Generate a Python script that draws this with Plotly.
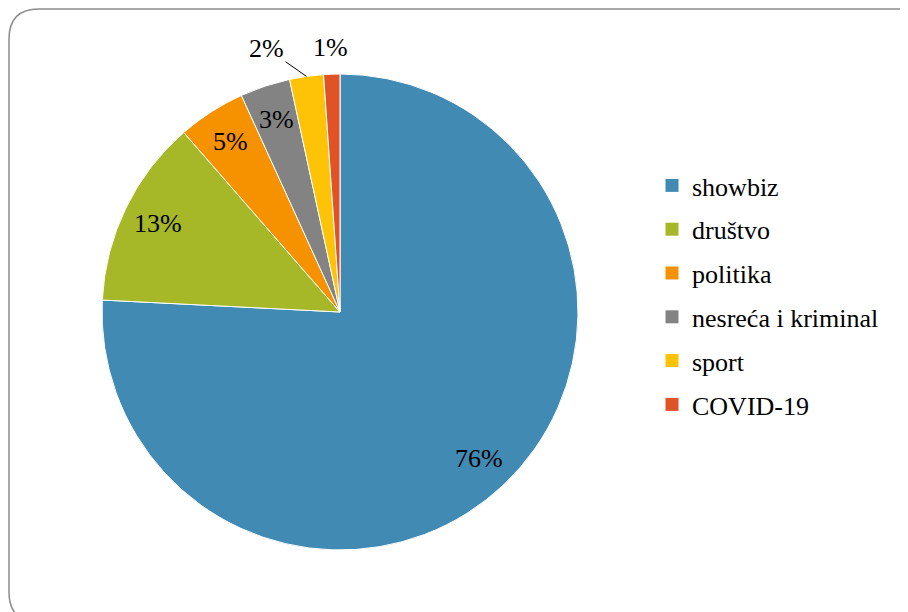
import math
import plotly.graph_objects as go

categories = ["showbiz", "društvo", "politika", "nesreća i kriminal", "sport", "COVID-19"]
shares = [75.8, 12.8, 4.6, 3.4, 2.3, 1.1]
colors = ["#418AB3", "#A6B727", "#F69200", "#838383", "#FEC306", "#DF5327"]
label_outside = [False, False, False, False, True, True]

W, H = 908, 612
OFF = 8  # page body margin
FONT = "Liberation Serif"

# pie placement (pixels in the page)
PIE_L, PIE_R, PIE_T, PIE_B = 102, 578, 74, 550


def px(x):
    return (x - OFF) / W


def py(y):
    return 1 - (y - OFF) / H


fig = go.Figure()
fig.add_trace(go.Pie(
    labels=categories,
    values=shares,
    sort=False,
    direction="clockwise",
    rotation=0,
    marker=dict(colors=colors, line=dict(color="white", width=1)),
    textinfo="none",
    showlegend=False,
    domain=dict(x=[px(PIE_L), px(PIE_R)], y=[py(PIE_B), py(PIE_T)]),
    hoverinfo="label+percent",
))

# percentage labels placed along each slice's bisector (derived from the data)
cx, cy = (PIE_L + PIE_R) / 2, (PIE_T + PIE_B) / 2
R = (PIE_R - PIE_L) / 2
total = sum(shares)
label_font = dict(family=FONT, size=26, color="black")
annotations = []
start = 0.0
for i, (v, out) in enumerate(zip(shares, label_outside)):
    ang = (start + v / 2) / total * 2 * math.pi
    start += v
    pct = f"{round(v / total * 100)}%"
    if not out:
        d = 0.85 * R
        annotations.append(dict(
            x=px(cx + d * math.sin(ang)), y=py(cy - d * math.cos(ang)),
            xref="paper", yref="paper", text=pct, showarrow=False,
            xanchor="center", yanchor="middle", font=label_font))
    elif i == len(shares) - 1:
        d = 1.11 * R
        annotations.append(dict(
            x=px(cx + d * math.sin(ang)), y=py(cy - d * math.cos(ang)),
            xref="paper", yref="paper", text=pct, showarrow=False,
            xanchor="center", yanchor="middle", font=label_font))
    else:
        annotations.append(dict(
            x=px(cx + R * math.sin(ang)), y=py(cy - R * math.cos(ang)),
            xref="paper", yref="paper", text=pct, showarrow=True,
            arrowhead=0, arrowwidth=1, arrowcolor="black",
            ax=-40, ay=-28, standoff=0, font=label_font))

# legend entries (one per category so the spacing can match)
for i, (cat, col) in enumerate(zip(categories, colors)):
    fig.add_trace(go.Scatter(
        x=[None], y=[None], mode="markers", name=cat,
        marker=dict(symbol="square", size=13, color=col),
        legendgroup=f"g{i}", showlegend=True,
    ))

# rounded border frame
x0, y0, x1, y1, r = 9, 9, 927, 622, 30
path = (
    f"M {px(x0)},{py(y0 + r)} "
    f"Q {px(x0)},{py(y0)} {px(x0 + r)},{py(y0)} "
    f"L {px(x1 - r)},{py(y0)} "
    f"Q {px(x1)},{py(y0)} {px(x1)},{py(y0 + r)} "
    f"L {px(x1)},{py(y1 - r)} "
    f"Q {px(x1)},{py(y1)} {px(x1 - r)},{py(y1)} "
    f"L {px(x0 + r)},{py(y1)} "
    f"Q {px(x0)},{py(y1)} {px(x0)},{py(y1 - r)} Z"
)

fig.update_layout(
    width=W, height=H,
    margin=dict(l=0, r=0, t=0, b=0),
    paper_bgcolor="white",
    plot_bgcolor="white",
    font=dict(family=FONT, size=26, color="black"),
    xaxis=dict(visible=False),
    yaxis=dict(visible=False),
    legend=dict(
        x=px(652), y=py(162), xanchor="left", yanchor="top",
        font=dict(family=FONT, size=26, color="black"),
        tracegroupgap=7,
        bgcolor="rgba(0,0,0,0)",
    ),
    annotations=annotations,
    shapes=[dict(type="path", xref="paper", yref="paper", path=path,
                 line=dict(color="#8C8C8C", width=1.5), layer="below")],
)

fig.write_html("out.html")
